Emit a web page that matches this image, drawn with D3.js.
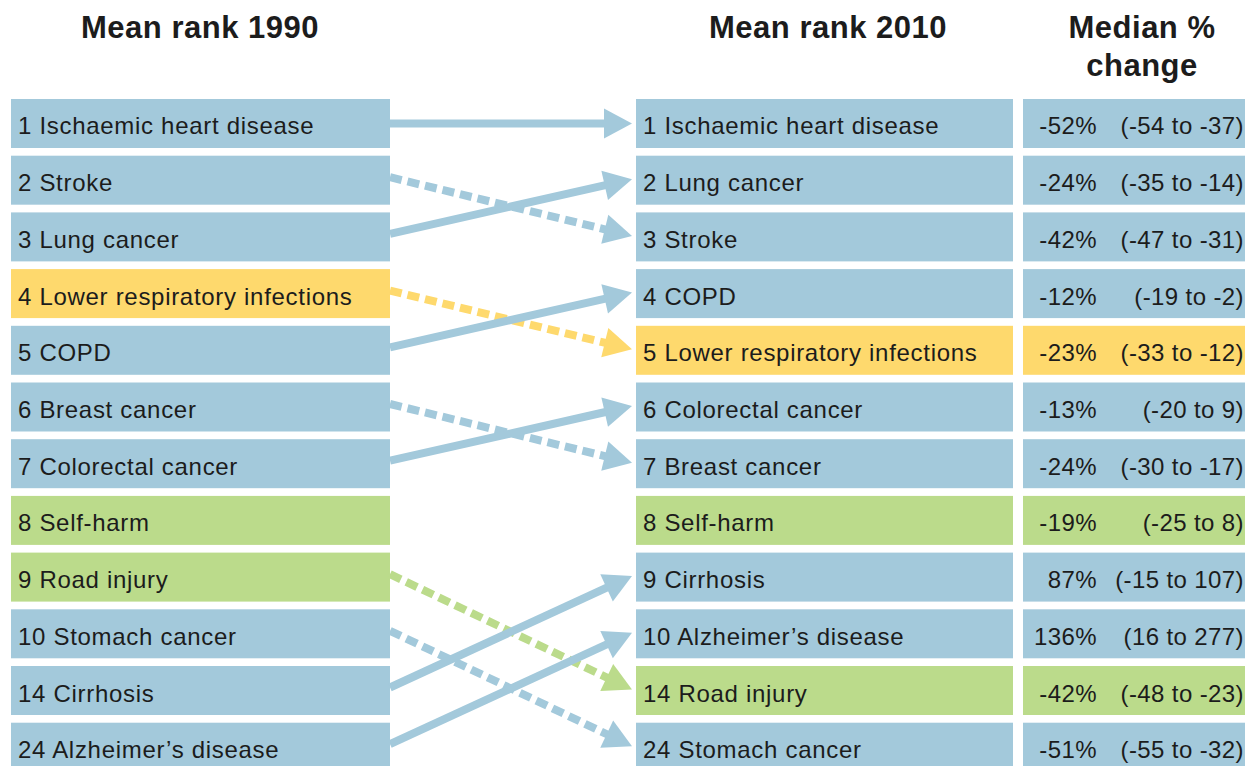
<!DOCTYPE html>
<meta charset="utf-8">
<script src="https://d3js.org/d3.v7.min.js"></script>
<style>
  body { margin: 0; background: #fff; }
  text { font-family: "Liberation Sans", Arial, sans-serif; fill: #1c1c1c; }
</style>
<div id="my_dataviz"></div>
<script>
// causes, ranked 1990 (left) and 2010 (right)
var causes1990 = ["Ischaemic heart disease", "Stroke", "Lung cancer", "Lower respiratory infections",
  "COPD", "Breast cancer", "Colorectal cancer", "Self-harm", "Road injury", "Stomach cancer",
  "Cirrhosis", "Alzheimer\u2019s disease"];
var ranks1990 = [1, 2, 3, 4, 5, 6, 7, 8, 9, 10, 14, 24];
var groups1990 = ["ncd", "ncd", "ncd", "comm", "ncd", "ncd", "ncd", "inj", "inj", "ncd", "ncd", "ncd"];

var causes2010 = ["Ischaemic heart disease", "Lung cancer", "Stroke", "COPD",
  "Lower respiratory infections", "Colorectal cancer", "Breast cancer", "Self-harm", "Cirrhosis",
  "Alzheimer\u2019s disease", "Road injury", "Stomach cancer"];
var ranks2010 = [1, 2, 3, 4, 5, 6, 7, 8, 9, 10, 14, 24];
var groups2010 = ["ncd", "ncd", "ncd", "ncd", "comm", "ncd", "ncd", "inj", "ncd", "ncd", "inj", "ncd"];

// median % change with uncertainty range, per 2010 row
var medianChange = [-52, -24, -42, -12, -23, -13, -24, -19, 87, 136, -42, -51];
var changeLow = [-54, -35, -47, -19, -33, -20, -30, -25, -15, 16, -48, -55];
var changeHigh = [-37, -14, -31, -2, -12, 9, -17, 8, 107, 277, -23, -32];

// arrow style for each 1990 row
var arrowStyle = ["solid", "dashed", "solid", "dashed", "solid", "dashed", "solid", "none",
  "dashed", "dashed", "solid", "solid"];

var color = d3.scaleOrdinal()
  .domain(["ncd", "comm", "inj"])
  .range(["#a3c9db", "#fed96d", "#bbdb8b"]);

var width = 1245, height = 766;
var svg = d3.select("#my_dataviz").append("svg")
  .attr("width", width).attr("height", height);

var y = d3.scaleBand()
  .domain(d3.range(12))
  .range([99, 99 + 11 * 56.7 + 49])
  .paddingInner(0.136)
  .paddingOuter(0);

var leftX = 11, leftW = 379;
var rightX = 636, rightW = 377;
var chgX = 1023, chgW = 222;

// headers
var headers = [
  {x: 200, y: 38, t: "Mean rank 1990"},
  {x: 828, y: 38, t: "Mean rank 2010"},
  {x: 1142, y: 38, t: "Median %"},
  {x: 1142, y: 76, t: "change"}
];
svg.selectAll("text.header").data(headers).enter().append("text")
  .attr("class", "header")
  .attr("x", function(d) { return d.x; }).attr("y", function(d) { return d.y; })
  .attr("text-anchor", "middle").style("font-size", "31px").style("font-weight", "bold")
  .style("letter-spacing", "0.5px").text(function(d) { return d.t; });

// left boxes
var left = svg.selectAll("g.left").data(causes1990).enter().append("g").attr("class", "left");
left.append("rect")
  .attr("x", leftX).attr("y", function(d, i) { return y(i); })
  .attr("width", leftW).attr("height", y.bandwidth())
  .attr("fill", function(d, i) { return color(groups1990[i]); });
left.append("text")
  .attr("x", leftX + 7).attr("y", function(d, i) { return y(i) + y.bandwidth() / 2 + 11; })
  .style("font-size", "24px").style("letter-spacing", "0.7px")
  .text(function(d, i) { return ranks1990[i] + " " + d; });

// right boxes
var right = svg.selectAll("g.right").data(causes2010).enter().append("g").attr("class", "right");
right.append("rect")
  .attr("x", rightX).attr("y", function(d, i) { return y(i); })
  .attr("width", rightW).attr("height", y.bandwidth())
  .attr("fill", function(d, i) { return color(groups2010[i]); });
right.append("text")
  .attr("x", rightX + 7).attr("y", function(d, i) { return y(i) + y.bandwidth() / 2 + 11; })
  .style("font-size", "24px").style("letter-spacing", "0.7px")
  .text(function(d, i) { return ranks2010[i] + " " + d; });

// change column
right.append("rect")
  .attr("x", chgX).attr("y", function(d, i) { return y(i); })
  .attr("width", chgW).attr("height", y.bandwidth())
  .attr("fill", function(d, i) { return color(groups2010[i]); });
right.append("text")
  .attr("x", 1097).attr("y", function(d, i) { return y(i) + y.bandwidth() / 2 + 11; })
  .attr("text-anchor", "end")
  .style("font-size", "24px").style("letter-spacing", "0.4px")
  .text(function(d, i) { return medianChange[i] + "%"; });
right.append("text")
  .attr("x", 1244).attr("y", function(d, i) { return y(i) + y.bandwidth() / 2 + 11; })
  .attr("text-anchor", "end")
  .style("font-size", "24px").style("letter-spacing", "0.4px")
  .text(function(d, i) { return "(" + changeLow[i] + " to " + changeHigh[i] + ")"; });

// arrows
var headLen = 28, headHalf = 15;
causes1990.forEach(function(cause, i) {
  var style = arrowStyle[i];
  if (style === "none") return;
  var j = causes2010.indexOf(cause);
  var x0 = leftX + leftW, y0 = y(i) + y.bandwidth() / 2 - (i === j ? 0 : 3);
  var x1 = rightX - 4, y1 = y(j) + y.bandwidth() / 2 - (i === j ? 0 : 1);
  var dx = x1 - x0, dy = y1 - y0, len = Math.sqrt(dx * dx + dy * dy);
  var ux = dx / len, uy = dy / len;
  var bx = x1 - ux * headLen, by = y1 - uy * headLen;
  var c = color(groups1990[i]);
  svg.append("line")
    .attr("x1", x0).attr("y1", y0)
    .attr("x2", bx + ux * 2).attr("y2", by + uy * 2)
    .attr("stroke", c).attr("stroke-width", 8)
    .attr("stroke-dasharray", style === "dashed" ? "12,6" : null);
  svg.append("polygon")
    .attr("points", [
      [x1, y1],
      [bx - uy * headHalf, by + ux * headHalf],
      [bx + uy * headHalf, by - ux * headHalf]
    ].map(function(p) { return p.join(","); }).join(" "))
    .attr("fill", c);
});
</script>
